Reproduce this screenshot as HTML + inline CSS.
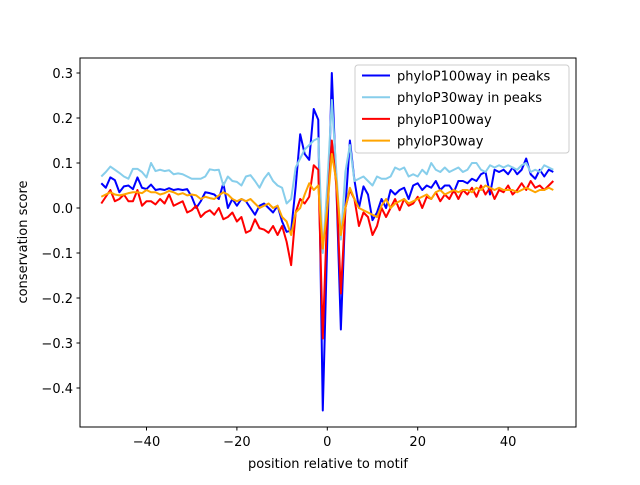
<!DOCTYPE html>
<html><head><meta charset="utf-8"><style>
body{margin:0;background:#fff}
svg text{font-family:"DejaVu Sans","Liberation Sans",sans-serif;font-size:13px;fill:#000}
</style></head><body>
<svg id="chart" width="640" height="480" xmlns="http://www.w3.org/2000/svg">
<rect width="640" height="480" fill="#fff"/>
<g id="marks"></g>
<rect x="80" y="58" width="496" height="369" fill="none" stroke="#000" stroke-width="1"/>
<g id="xt"></g><g id="yt"></g>
<text x="328" y="468" text-anchor="middle">position relative to motif</text>
<text transform="translate(27,242) rotate(-90)" text-anchor="middle">conservation score</text>
<g id="legend"></g>
</svg>
<script>
const xStart = -50;
const xTicks = [-40, -20, 0, 20, 40];
const yTicks = [-0.4, -0.3, -0.2, -0.1, 0.0, 0.1, 0.2, 0.3];
const seriesNames = ["phyloP100way in peaks", "phyloP30way in peaks", "phyloP100way", "phyloP30way"];
const seriesColors = ["#0000ff", "#87ceeb", "#ff0000", "#ffa500"];
const blueVals = [.055,.045,.068,.062,.035,.048,.05,.042,.068,.045,
.042,.052,.04,.042,.04,.044,.04,.042,.04,.042,
.025,.0,.015,.035,.033,.03,.02,.055,.0,.02,
.005,.02,.015,.0,-.015,.005,.01,.0,-.01,.005,
-.03,-.053,-.05,.047,.164,.12,.107,.22,.196,-.45,
-.07,.30,.05,-.27,.0,.15,.062,.0,.048,.03,-.027,
-.01,.02,.0,.04,.03,.04,.045,.02,.05,.055,
.04,.05,.045,.06,.04,.05,.05,.035,.06,.06,
.055,.065,.06,.075,.08,.03,.085,.08,.085,.075,
.09,.075,.085,.11,.075,.065,.085,.07,.085,.08];
const skyVals = [.07,.08,.092,.085,.078,.07,.065,.087,.087,.08,
.068,.1,.082,.085,.082,.084,.075,.077,.075,.07,
.065,.065,.065,.07,.086,.084,.085,.05,.07,.06,
.058,.05,.07,.073,.06,.045,.065,.078,.06,.05,
.045,.01,.02,.09,.11,.13,.14,.15,.155,-.1,
.05,.24,.08,-.07,.08,.14,.06,.065,.07,.06,.05,
.07,.065,.065,.07,.09,.085,.09,.07,.075,.07,
.085,.075,.1,.085,.08,.09,.08,.085,.09,.08,
.085,.1,.1,.085,.08,.095,.09,.095,.09,.095,
.09,.085,.095,.1,.08,.085,.08,.095,.09,.085];
const redVals = [.01,.025,.04,.015,.02,.03,.015,.015,.04,.005,
.015,.015,.008,.02,.01,.03,.005,.01,.015,-.01,
-.005,.005,-.02,-.01,-.005,-.015,.0,-.025,-.02,-.01,
-.03,-.02,-.055,-.05,-.025,-.045,-.048,-.055,-.04,-.06,
-.04,-.075,-.127,-.01,.02,.01,.025,.095,.085,-.29,
.0,.15,.05,-.19,.0,.04,.02,-.04,-.01,-.02,-.06,
-.04,.0,-.02,.0,.02,-.005,.02,.005,.01,.025,
.0,.025,.02,.035,.015,.03,.02,.04,.02,.04,
.03,.045,.025,.05,.03,.045,.02,.04,.035,.05,
.03,.04,.055,.04,.06,.045,.05,.04,.05,.06];
const orangeVals = [.025,.03,.035,.03,.028,.03,.033,.035,.035,.033,
.04,.035,.035,.03,.033,.038,.035,.03,.033,.028,
.03,.028,.02,.025,.022,.02,.028,.035,.03,.02,
.015,.02,.015,.02,.01,.0,.005,.01,.0,.005,
-.02,-.03,-.06,-.01,.0,.03,.055,.04,.05,-.09,
.0,.12,.06,-.06,.0,.045,.02,.0,-.005,-.01,-.015,
-.02,.005,.02,.0,.01,.015,.02,.01,.015,.02,
.025,.03,.02,.035,.04,.03,.035,.04,.035,.04,
.04,.035,.045,.04,.05,.045,.04,.045,.04,.04,
.04,.035,.04,.045,.04,.035,.04,.04,.045,.04];

const NS="http://www.w3.org/2000/svg";
const xs = v => 327.3 + v*4.52;
const ys = v => 208 - v*450;
function mk(tag, attrs, parent){const e=document.createElementNS(NS,tag);for(const k in attrs)e.setAttribute(k,attrs[k]);parent.appendChild(e);return e;}
const marks=document.getElementById('marks');
const all=[blueVals,skyVals,redVals,orangeVals];
const lineNames=['line-phylop100way-peaks','line-phylop30way-peaks','line-phylop100way','line-phylop30way'];
all.forEach((arr,i)=>{
  const d=arr.map((v,j)=>(j?'L':'M')+xs(xStart+j).toFixed(2)+','+ys(v).toFixed(2)).join(' ');
  const p=mk('path',{d:d,fill:'none',stroke:seriesColors[i],'stroke-width':2,'stroke-linejoin':'round'},marks);
  
  
});
const xt=document.getElementById('xt');
xTicks.forEach(t=>{
  const l=mk('line',{x1:xs(t),x2:xs(t),y1:427,y2:430.5,stroke:'#000'},xt);
  
  
  const tx=mk('text',{x:xs(t),y:446,'text-anchor':'middle'},xt);
  tx.textContent=(t<0?'\u2212'+(-t):t);
  
  
});
const yt=document.getElementById('yt');
yTicks.forEach(t=>{
  const l=mk('line',{x1:76.5,x2:80,y1:ys(t),y2:ys(t),stroke:'#000'},yt);
  
  
  const tx=mk('text',{x:73,y:ys(t)+5,'text-anchor':'end'},yt);
  tx.textContent=(t<0?'\u2212':'')+Math.abs(t).toFixed(1);
  
  
});
const lg=document.getElementById('legend');
mk('rect',{x:355,y:65,width:214,height:88,rx:3,fill:'#fff','fill-opacity':0.8,stroke:'#ccc'},lg);
seriesNames.forEach((n,i)=>{
  const y=75.5+i*21.7;
  const l=mk('line',{x1:362,x2:390,y1:y,y2:y,stroke:seriesColors[i],'stroke-width':2},lg);
  
  
  const tx=mk('text',{x:397,y:y+5},lg);
  tx.textContent=n;
  
  
});
</script>
</body></html>
